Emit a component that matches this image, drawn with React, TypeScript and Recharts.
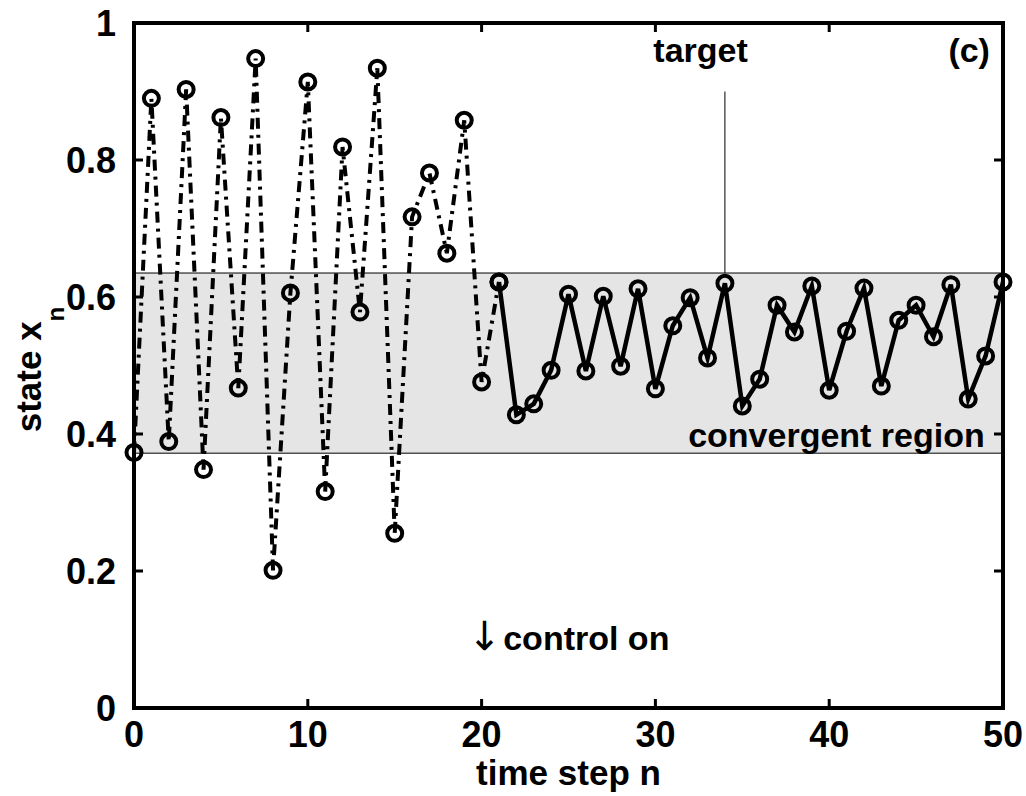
import React from 'react';
import { LineChart, Line, XAxis, YAxis, ReferenceArea, ReferenceLine, ReferenceDot } from 'recharts';

// time steps
const steps: number[] = Array.from({ length: 51 }, (_, i) => i);
// uncontrolled chaotic phase, n = 0..21
const chaosValues: number[] = [
  0.373, 0.890, 0.389, 0.903, 0.348, 0.862, 0.467, 0.948, 0.201, 0.606,
  0.914, 0.316, 0.819, 0.578, 0.934, 0.255, 0.717, 0.781, 0.664, 0.858,
  0.476, 0.622,
];
// controlled phase, n = 21..50
const controlValues: number[] = [
  0.622, 0.428, 0.444, 0.493, 0.604, 0.492, 0.601, 0.499, 0.612, 0.466,
  0.558, 0.599, 0.511, 0.620, 0.441, 0.480, 0.588, 0.549, 0.616, 0.464,
  0.550, 0.613, 0.470, 0.566, 0.588, 0.542, 0.618, 0.451, 0.514, 0.622,
];
const CONTROL_START = 21;
const xTicks: number[] = [0, 10, 20, 30, 40, 50];
const yTicks: number[] = [0, 0.2, 0.4, 0.6, 0.8, 1];
const yTickLabels: string[] = ['0', '0.2', '0.4', '0.6', '0.8', '1'];
const regionLow = 0.372;
const regionHigh = 0.635;
const targetStep = 34;
const targetLineTop = 0.9;

const data = steps.map((n) => ({
  n,
  chaos: n <= CONTROL_START ? chaosValues[n] : null,
  ctrl: n >= CONTROL_START ? controlValues[n - CONTROL_START] : null,
}));

const FONT = 'Liberation Sans, Arial, Helvetica, sans-serif';
const W = 1026;
const H = 796;
const MARGIN = { top: 23, right: 23, bottom: 28, left: 0 };
const Y_AXIS_W = 134;
const X_AXIS_H = 60;
const PL = MARGIN.left + Y_AXIS_W;
const PR = W - MARGIN.right;
const PT = MARGIN.top;
const PB = H - MARGIN.bottom - X_AXIS_H;
const TICK = 9;

const XTick = (props: any) => {
  const { x, payload } = props;
  return (
    <g>
      <line x1={x} y1={PB} x2={x} y2={PB - TICK} stroke="#000" strokeWidth={3} />
      <line x1={x} y1={PT} x2={x} y2={PT + TICK} stroke="#000" strokeWidth={3} />
      <text x={x} y={PB + 39} textAnchor="middle" fontFamily={FONT} fontWeight="bold" fontSize={36} fill="#000">
        {String(payload.value)}
      </text>
    </g>
  );
};

const YTick = (props: any) => {
  const { y, payload } = props;
  const label = yTickLabels[yTicks.indexOf(payload.value)] ?? String(payload.value);
  return (
    <g>
      <line x1={PL} y1={y} x2={PL + TICK} y2={y} stroke="#000" strokeWidth={3} />
      <line x1={PR} y1={y} x2={PR - TICK} y2={y} stroke="#000" strokeWidth={3} />
      <text x={PL - 18} y={y + 13} textAnchor="end" fontFamily={FONT} fontWeight="bold" fontSize={36} fill="#000">
        {label}
      </text>
    </g>
  );
};

const Marker = (props: any) => {
  const { cx, cy, index } = props;
  if (cx == null || cy == null) return <g key={`m-${index}`} />;
  return (
    <circle key={`m-${index}`} cx={cx} cy={cy} r={7.5} stroke="#000" strokeWidth={4} fill="none" strokeDasharray="none" />
  );
};

const textShape = (content: React.ReactNode, anchor: string, size = 34) => (p: any) => (
  <text x={p.cx} y={p.cy} textAnchor={anchor} fontFamily={FONT} fontWeight="bold" fontSize={size} fill="#000">
    {content}
  </text>
);

const controlShape = (p: any) => (
  <text x={p.cx} y={p.cy} textAnchor="start" fontFamily={FONT} fontWeight="bold" fontSize={34} fill="#000">
    <tspan fontFamily="DejaVu Sans, sans-serif" fontWeight="normal" fontSize={40}>↓</tspan>
    <tspan dx={2}>control on</tspan>
  </text>
);

export default function App() {
  return (
    <div style={{ position: 'absolute', left: 0, top: 0, width: W, height: H }}>
      <LineChart width={W} height={H} data={data} margin={MARGIN}>
        <XAxis
          dataKey="n"
          type="number"
          domain={[0, 50]}
          ticks={xTicks}
          axisLine={false}
          tickLine={false}
          height={X_AXIS_H}
          tick={<XTick />}
          interval={0}
          label={{
            content: () => (
              <text x={(PL + PR) / 2} y={PB + 77} textAnchor="middle" fontFamily={FONT} fontWeight="bold" fontSize={35} fill="#000">
                time step n
              </text>
            ),
          }}
        />
        <YAxis
          type="number"
          domain={[0, 1]}
          ticks={yTicks}
          axisLine={false}
          tickLine={false}
          width={Y_AXIS_W}
          tick={<YTick />}
          interval={0}
          label={{
            content: () => (
              <text
                transform={`translate(41, ${(PT + PB) / 2 + 4}) rotate(-90)`}
                textAnchor="middle"
                fontFamily={FONT}
                fontWeight="bold"
                fontSize={35}
                fill="#000"
              >
                state x
                <tspan dy={23} fontSize={24}>n</tspan>
              </text>
            ),
          }}
        />
        <ReferenceArea x1={0} x2={50} y1={regionLow} y2={regionHigh} fill="#e5e5e5" fillOpacity={1} stroke="#000" strokeWidth={1} />
        <ReferenceArea x1={0} x2={50} y1={0} y2={1} fill="none" stroke="#000" strokeWidth={4} />
        <ReferenceLine
          segment={[
            { x: targetStep, y: regionHigh },
            { x: targetStep, y: targetLineTop },
          ]}
          stroke="#000"
          strokeWidth={1}
        />
        <Line
          dataKey="chaos"
          type="linear"
          stroke="#000"
          strokeWidth={4}
          strokeDasharray="11 6 3 6"
          dot={Marker}
          isAnimationActive={false}
          connectNulls={false}
        />
        <Line
          dataKey="ctrl"
          type="linear"
          stroke="#000"
          strokeWidth={4.5}
          dot={Marker}
          isAnimationActive={false}
          connectNulls={false}
        />
        <ReferenceDot x={32.6} y={0.943} r={0} shape={textShape('target', 'middle')} />
        <ReferenceDot x={49.25} y={0.943} r={0} shape={textShape('(c)', 'end')} />
        <ReferenceDot x={48.95} y={0.381} r={0} shape={textShape('convergent region', 'end')} />
        <ReferenceDot x={19.2} y={0.085} r={0} shape={controlShape} />
      </LineChart>
    </div>
  );
}
